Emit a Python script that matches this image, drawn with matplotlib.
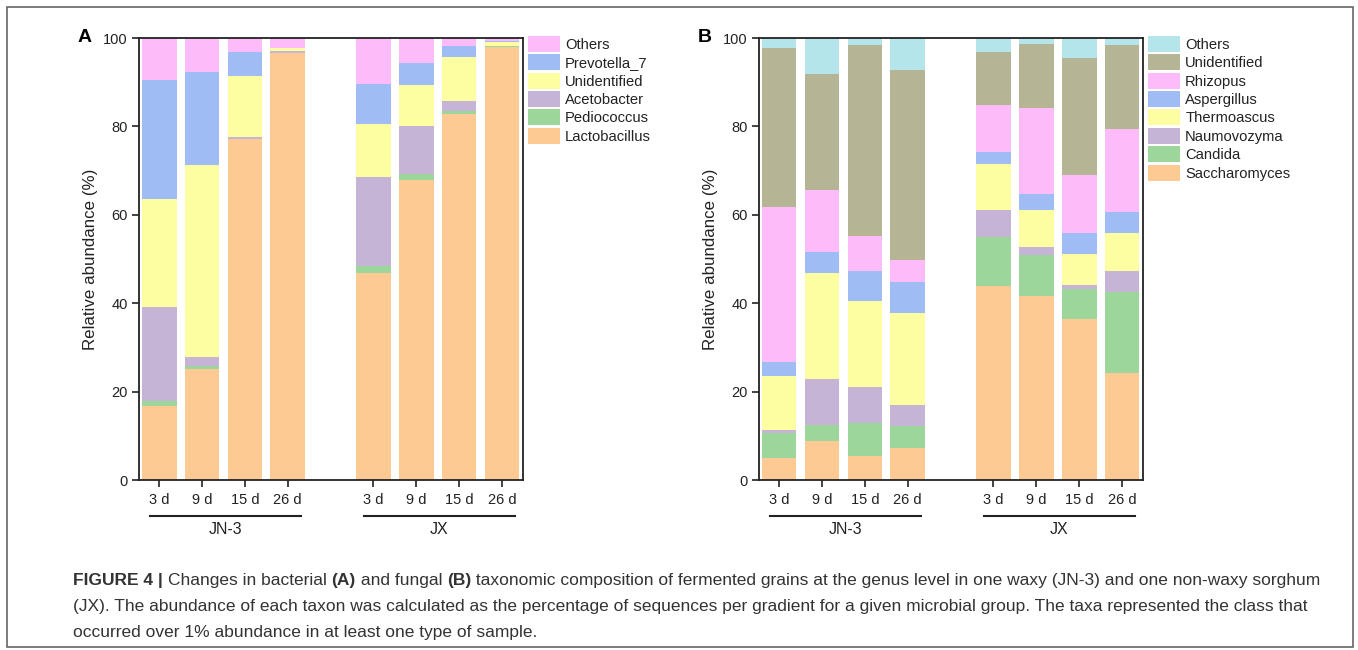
import numpy as np
import matplotlib.pyplot as plt
from matplotlib.patches import Patch, Rectangle

plt.rcParams['font.family'] = ['Liberation Sans', 'DejaVu Sans']

# Data ----------------------------------------------------------------------------------------------------------------
days = ["3 d", "9 d", "15 d", "26 d", "3 d", "9 d", "15 d", "26 d"]
groups = ["JN-3", "JX"]
xpos = [0, 1, 2, 3, 5, 6, 7, 8]

# bacteria (A), bottom to top, percent per sample
bac_names = ["Lactobacillus", "Pediococcus", "Acetobacter", "Unidentified", "Prevotella_7", "Others"]
lactobacillus = [16.8, 25.1, 77.1, 96.5, 46.8, 67.9, 82.9, 98.0]
pediococcus = [1.1, 0.6, 0.1, 0.1, 1.7, 1.3, 0.6, 0.1]
acetobacter = [21.2, 2.2, 0.5, 0.4, 20.0, 10.9, 2.2, 0.2]
bac_unidentified = [24.4, 43.4, 13.8, 0.7, 12.0, 9.2, 9.9, 0.9]
prevotella_7 = [27.1, 20.9, 5.3, 0.1, 9.2, 5.0, 2.7, 0.2]
bac_others = [9.4, 7.8, 3.2, 2.2, 10.3, 5.7, 1.7, 0.6]

# fungi (B), bottom to top
fun_names = ["Saccharomyces", "Candida", "Naumovozyma", "Thermoascus", "Aspergillus", "Rhizopus", "Unidentified", "Others"]
saccharomyces = [4.9, 8.9, 5.5, 7.3, 43.8, 41.7, 36.5, 24.1]
candida = [5.8, 3.6, 7.3, 5.0, 11.2, 9.1, 6.7, 18.5]
naumovozyma = [0.6, 10.3, 8.2, 4.7, 6.1, 2.0, 1.0, 4.7]
thermoascus = [12.2, 24.0, 19.4, 20.7, 10.5, 8.2, 6.9, 8.5]
aspergillus = [3.1, 4.7, 6.8, 7.0, 2.6, 3.8, 4.7, 4.9]
rhizopus = [35.1, 14.2, 8.1, 5.1, 10.7, 19.4, 13.2, 18.7]
fun_unidentified = [36.0, 26.2, 43.2, 43.0, 11.9, 14.5, 26.5, 19.0]
fun_others = [2.3, 8.1, 1.5, 7.2, 3.2, 1.3, 4.5, 1.6]

bac_data = [lactobacillus, pediococcus, acetobacter, bac_unidentified, prevotella_7, bac_others]
fun_data = [saccharomyces, candida, naumovozyma, thermoascus, aspergillus, rhizopus, fun_unidentified, fun_others]

orange = "#fdca93"
green = "#9dd69a"
purple = "#c6b4d7"
yellow = "#fdfda2"
blue = "#9fbcf5"
pink = "#fdbbfa"
olive = "#b5b596"
cyan = "#b3e5eb"
bac_colors = [orange, green, purple, yellow, blue, pink]
fun_colors = [orange, green, purple, yellow, blue, pink, olive, cyan]

# Figure --------------------------------------------------------------------------------------------------------------
W, H = 1358, 650
fig = plt.figure(figsize=(W / 100, H / 100), dpi=100)


def panel(left_px, data, names, colors, letter):
    ax = fig.add_axes([left_px / W, 1 - 480 / H, 384 / W, 442 / H])
    bottom = np.zeros(len(xpos))
    handles = []
    for vals, name, c in zip(data, names, colors):
        ax.bar(xpos, vals, width=0.81, bottom=bottom, color=c, linewidth=0)
        bottom += np.array(vals)
        handles.append(Patch(facecolor=c, edgecolor="none", label=name))
    ax.set_xlim(-0.47, 8.49)
    ax.set_ylim(0, 100)
    ax.set_yticks([0, 20, 40, 60, 80, 100])
    ax.set_xticks(xpos)
    ax.set_xticklabels(days)
    ax.tick_params(axis="both", direction="out", length=5, width=1.2, labelsize=10.5, colors="#222222", pad=3)
    ax.tick_params(axis="x", pad=4)
    for s in ax.spines.values():
        s.set_linewidth(1.3)
        s.set_color("#222222")
    ax.set_ylabel("Relative abundance (%)", fontsize=12.2, labelpad=4, color="#222222")
    # group underlines and labels
    for (x0, x1), g in zip([(-0.22, 3.3), (4.78, 8.3)], groups):
        ax.plot([x0, x1], [-8.1, -8.1], color="#222222", lw=1.5, clip_on=False, transform=ax.transData)
        ax.text((x0 + x1) / 2, -9.6, g, ha="center", va="top", fontsize=11.5, color="#222222")
    leg = ax.legend(handles=handles[::-1], loc="upper left", bbox_to_anchor=(1.012, 1.005), frameon=False,
                    fontsize=10.6, handlelength=2.2, handleheight=1.3, handletextpad=0.35,
                    labelspacing=0.16, borderpad=0, borderaxespad=0)
    for t in leg.get_texts():
        t.set_color("#222222")
    fig.text((left_px - 61) / W, 1 - 37 / H, letter, fontsize=14, fontweight="bold", ha="left", va="center")
    return ax


panel(139, bac_data, bac_names, bac_colors, "A")
panel(759, fun_data, fun_names, fun_colors, "B")

# outer frame
fig.patches.append(Rectangle((7 / W, 3 / H), 1346 / W, 640 / H, transform=fig.transFigure,
                             fill=False, edgecolor="#666666", lw=1.2))

# caption
renderer = fig.canvas.get_renderer()


def rich_line(x_px, y_px, parts):
    x = x_px / W
    for txt, bold in parts:
        t = fig.text(x, 1 - y_px / H, txt, fontsize=12.5, color="#333333",
                     fontweight="bold" if bold else "normal", ha="left", va="center")
        x += t.get_window_extent(renderer).width / W


rich_line(73, 580, [("FIGURE 4 | ", True), ("Changes in bacterial ", False), ("(A)", True),
                    (" and fungal ", False), ("(B)", True),
                    (" taxonomic composition of fermented grains at the genus level in one waxy (JN-3) and one non-waxy sorghum", False)])
rich_line(73, 606, [("(JX). The abundance of each taxon was calculated as the percentage of sequences per gradient for a given microbial group. The taxa represented the class that", False)])
rich_line(73, 632, [("occurred over 1% abundance in at least one type of sample.", False)])

fig.savefig("out.png", dpi=100)
